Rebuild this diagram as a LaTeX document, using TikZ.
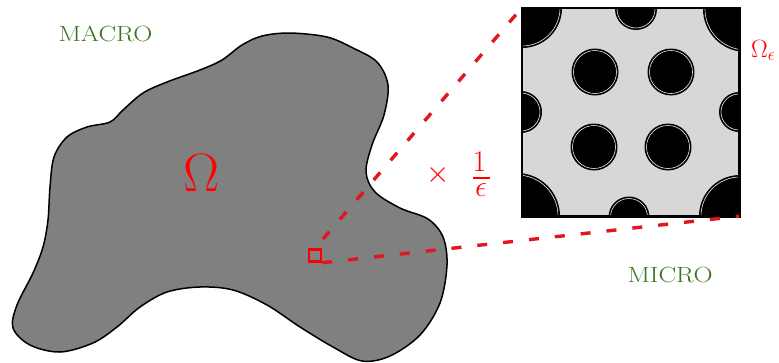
\RequirePackage{fix-cm}
\documentclass[tikz,border=0pt]{standalone}
\definecolor{dashred}{RGB}{226,22,30}
\definecolor{labgreen}{RGB}{58,118,30}
\definecolor{blobgray}{RGB}{128,128,128}
\definecolor{cellgray}{RGB}{217,214,214}
\tikzset{
  labeltext/.style={text=labgreen, inner sep=0pt, font=\fontsize{22}{26}\selectfont, xscale=1.2},
  redmath/.style={text=red, inner sep=0pt, font=\fontsize{30}{30}\selectfont},
  dashline/.style={draw=dashred, line width=3.4pt, dash pattern=on 10pt off 16pt},
  hole/.style={fill=black},
  holering/.style={draw=gray!15, line width=0.6pt},
}
\newcommand{\myhole}[2]{\fill[hole] #1 circle (#2pt); \draw[holering] #1 circle ({#2pt-2pt});}
\begin{document}
\begin{tikzpicture}[x=1pt,y=-1pt]
\useasboundingbox (0,0) rectangle (779,362);
% macro domain
\draw[fill=blobgray, line width=1.5pt, line join=round]
  plot[smooth cycle, tension=0.55] coordinates {
  (290,33) (327,37) (353,48) (377,62) (388,85) (384,115) (372,145) (366,172)
  (375,192) (400,208) (428,219) (443,237) (447,265) (440,303) (420,335)
  (390,356) (362,361) (333,347) (300,327) (267,305) (233,290) (200,287)
  (167,292) (140,307) (117,327) (93,343) (60,352) (30,345) (13,328) (17,305)
  (33,273) (43,247) (48,220) (50,187) (54,157) (67,137) (87,127) (110,122)
  (123,110) (143,93) (167,82) (200,70) (222,60) (242,45) (262,36)};
\node[text=red, inner sep=0pt, font=\fontsize{54}{60}\selectfont] (omega) at (201.5,173.5) {$\Omega$};
\node[labeltext] (macro) at (105.5,34) {MACRO};
\node[labeltext] (micro label) at (670,275) {MICRO};
% micro cell
\node[fill=cellgray, minimum width=217pt, minimum height=208pt, inner sep=0pt] (micro) at (630.5,112) {};
\begin{scope}
  \clip (micro.south west) rectangle (micro.north east);
  \myhole{(522,8)}{40}
  \myhole{(746,9)}{43}
  \myhole{(517,216)}{43}
  \myhole{(740,216)}{41}
  \myhole{(636,9)}{21}
  \myhole{(629,217)}{20.5}
  \myhole{(521,112)}{21}
  \myhole{(739,112)}{20}
  \myhole{(595,72)}{23.5}
  \myhole{(671,72)}{23.5}
  \myhole{(594,147)}{23.5}
  \myhole{(668,147)}{23.5}
\end{scope}
\draw[line width=2.6pt] (micro.south west) rectangle (micro.north east);
% zoom window
\node[draw=red, line width=2.5pt, minimum size=12pt, inner sep=0pt] (sq) at (315,255.5) {};
\draw[dashline, dash phase=14pt] (sq.north) -- (micro.north west);
\draw[dashline] (sq.south east) -- (micro.south east);
% scaling
\node[redmath] (times) at (438,175) {$\times$};
\node[redmath] (one) at (479.5,162) {$1$};
\node[fill=red, minimum width=17pt, minimum height=2pt, inner sep=0pt] (bar) at (481.5,178) {};
\node[redmath] (eps) at (481,190) {$\epsilon$};
\node[anchor=base west, text=red, inner sep=0pt, font=\fontsize{25}{28}\selectfont] (omegaeps) at (751,57) {$\Omega_\epsilon$};
\end{tikzpicture}
\end{document}
